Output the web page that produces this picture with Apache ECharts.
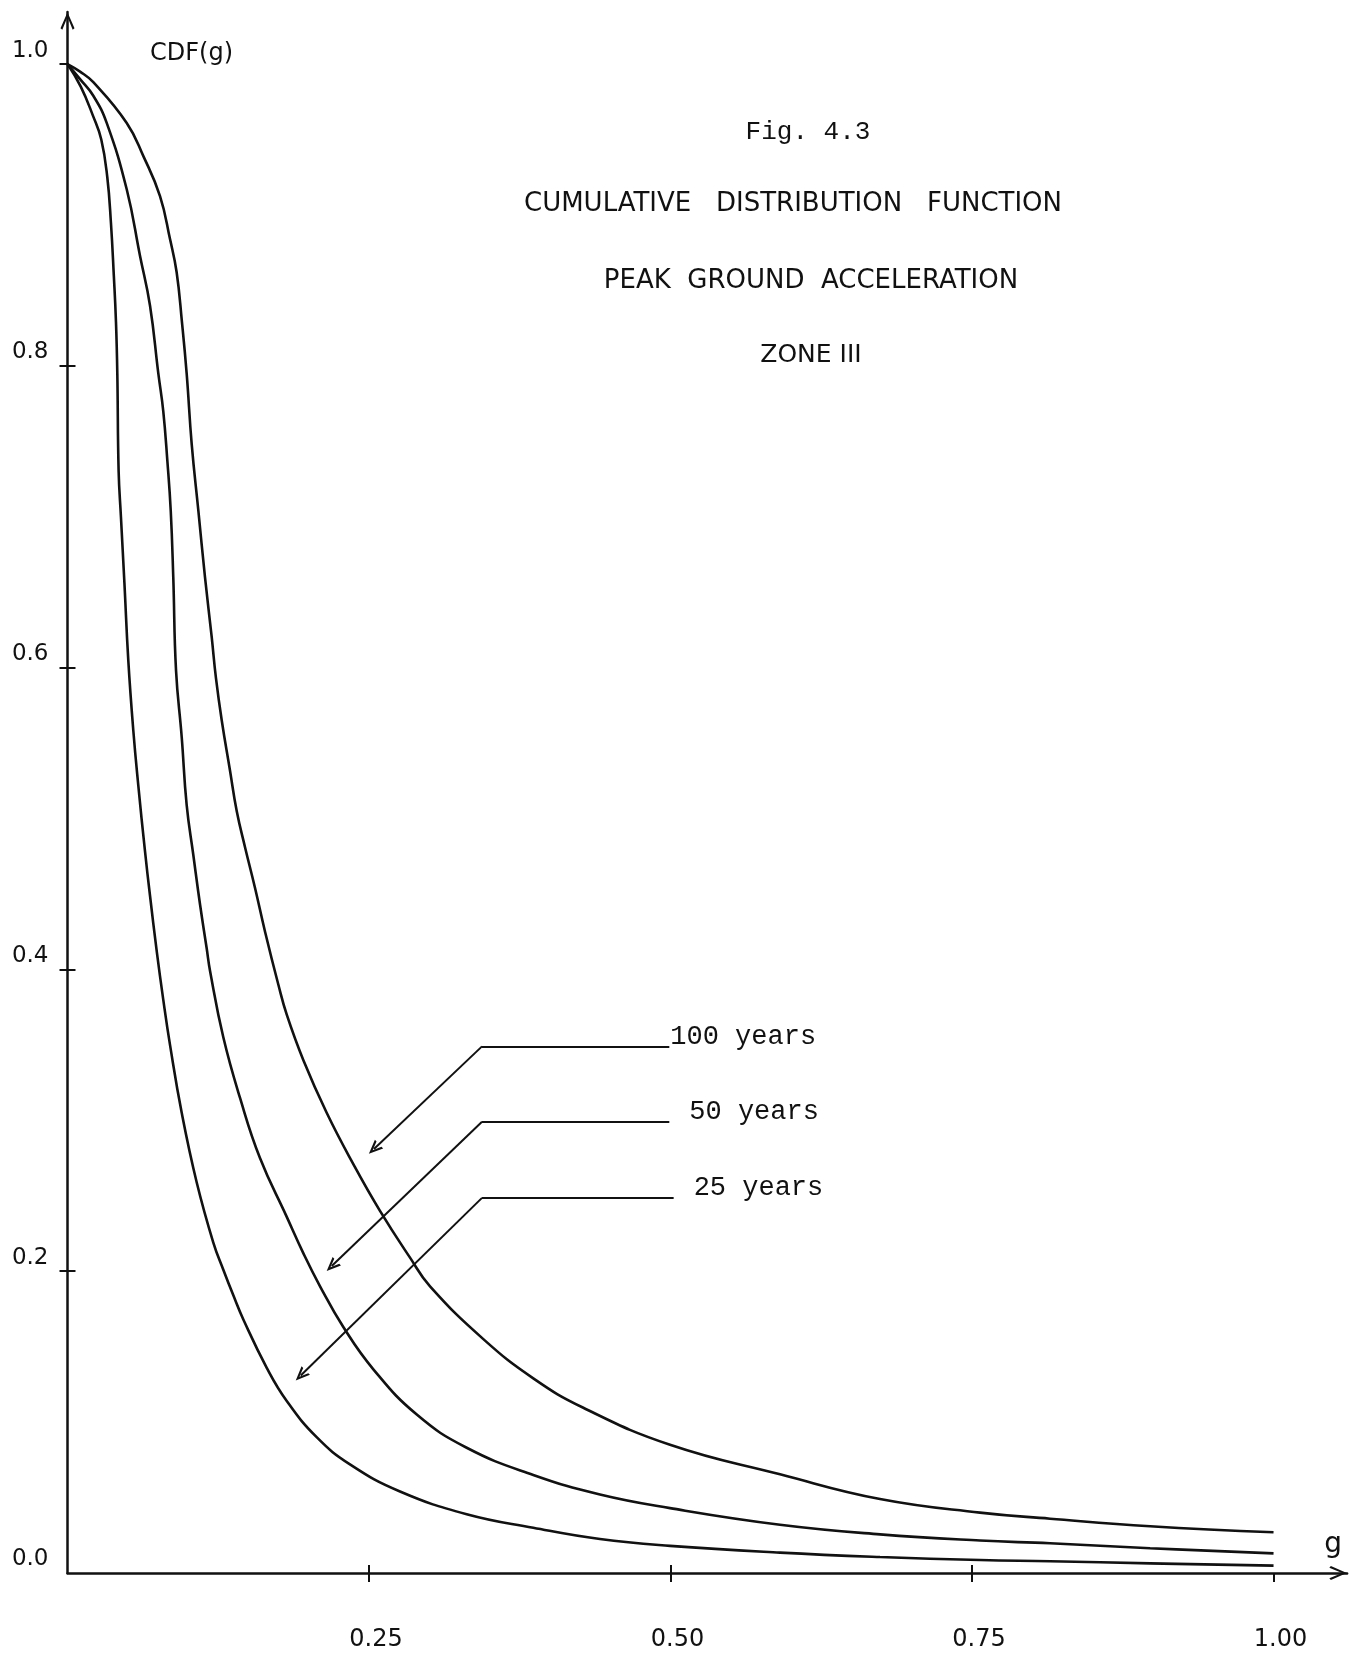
<!DOCTYPE html>
<html>
<head>
<meta charset="utf-8">
<title>Cumulative distribution function - peak ground acceleration, zone III</title>
<script src="https://cdn.jsdelivr.net/npm/echarts@6/dist/echarts.min.js"></script>
<style>
  html, body { margin: 0; padding: 0; background: #ffffff; }
  #chart { width: 1359px; height: 1661px; }
</style>
</head>
<body>
<div id="chart"></div>
<script>
// Exposure periods, one curve each
const seriesNames = ['25 years', '50 years', '100 years'];

// 25-year exposure: peak ground acceleration (g) and CDF(g)
const g25 = [0, 0.0110, 0.0210, 0.0280, 0.0330, 0.0360, 0.0384, 0.0402, 0.0413, 0.0424, 0.0443, 0.0472, 0.0504,
  0.0546, 0.0587, 0.0643, 0.0684, 0.0740, 0.0794, 0.0850, 0.0947, 0.1071, 0.1209, 0.1292, 0.1375,
  0.1458, 0.1652, 0.1818, 0.2066, 0.2342, 0.2757, 0.3310, 0.3862, 0.4415, 0.4996, 0.5908, 0.6737,
  0.7566, 0.8147, 0.8977, 1.0];
const cdf25 = [1.0, 0.985, 0.966, 0.950, 0.925, 0.895, 0.860, 0.829, 0.795, 0.730, 0.700, 0.656, 0.605,
  0.558, 0.522, 0.478, 0.449, 0.412, 0.380, 0.350, 0.305, 0.259, 0.219, 0.201, 0.184,
  0.168, 0.136, 0.114, 0.090, 0.072, 0.054, 0.039, 0.030, 0.0225, 0.018, 0.0135, 0.0106,
  0.0086, 0.0078, 0.0064, 0.0049];

// 50-year exposure
const g50 = [0, 0.0104, 0.0214, 0.0325, 0.0491, 0.0601, 0.0684, 0.0753, 0.0794, 0.0828, 0.0856, 0.0877,
  0.0900, 0.0947, 0.0988, 0.1043, 0.1099, 0.1154, 0.1182, 0.1292, 0.1430, 0.1596, 0.1818, 0.1955,
  0.2094, 0.2287, 0.2536, 0.2896, 0.3310, 0.3862, 0.4415, 0.4996, 0.5908, 0.6737, 0.7566, 0.8147,
  0.8977, 1.0];
const cdf50 = [1.0, 0.990, 0.979, 0.961, 0.917, 0.873, 0.840, 0.795, 0.770, 0.737, 0.704, 0.660,
  0.598, 0.554, 0.509, 0.476, 0.443, 0.414, 0.399, 0.355, 0.315, 0.275, 0.236, 0.212,
  0.190, 0.163, 0.135, 0.105, 0.083, 0.065, 0.052, 0.043, 0.032, 0.0256, 0.0215, 0.0197,
  0.0164, 0.0130];

// 100-year exposure
const g100 = [0, 0.0104, 0.0214, 0.0491, 0.0629, 0.0767, 0.0850, 0.0905, 0.0949, 0.0988, 0.1030, 0.1085,
  0.1140, 0.1196, 0.1231, 0.1279, 0.1347, 0.1403, 0.1472, 0.1555, 0.1638, 0.1748, 0.1818, 0.1955,
  0.2149, 0.2370, 0.2591, 0.2840, 0.3006, 0.3448, 0.3862, 0.4277, 0.4996, 0.5908, 0.6737, 0.7566,
  0.8147, 0.8977, 1.0];
const cdf100 = [1.0, 0.995, 0.988, 0.961, 0.939, 0.9125, 0.884, 0.862, 0.829, 0.795, 0.748, 0.704,
  0.660, 0.620, 0.593, 0.565, 0.532, 0.505, 0.481, 0.454, 0.425, 0.390, 0.370, 0.340,
  0.305, 0.271, 0.240, 0.209, 0.190, 0.155, 0.129, 0.1095, 0.085, 0.0654, 0.049, 0.040,
  0.036, 0.031, 0.027];

// Axis ticks and labels
const xTickValues = [0.25, 0.5, 0.75, 1.0];
const xInnerTickValues = [0.25, 0.5, 0.75];
const yTickValues = [0.2, 0.4, 0.6, 0.8, 1.0];
const yInnerTickValues = [0.2, 0.4, 0.6, 0.8];
const yLabelValues = [0, 0.2, 0.4, 0.6, 0.8, 1.0];

// Leader lines for the curve labels (data units): elbow, right end, arrow end
const leaders = {
  '100 years': { elbow: [0.3437, 0.349], end: [0.499, 0.349], arrow: [0.2541, 0.2810], gap: 1 },
  '50 years':  { elbow: [0.3437, 0.299], end: [0.499, 0.299], arrow: [0.2191, 0.2034], gap: 20 },
  '25 years':  { elbow: [0.3437, 0.2486], end: [0.5026, 0.2486], arrow: [0.1934, 0.1309], gap: 20 }
};

const INK = '#111111';
const axisArrow = 'path://M0,16 L7,0 L14,16 L12.2,17.5 L7,4.8 L1.8,17.5 Z';
const leaderArrow = 'path://M0,14 L6,0 L12,14 L9.6,14 L6,5.2 L2.4,14 Z';

const zip = (xs, ys) => xs.map((x, i) => [x, ys[i]]);
const curveData = {
  '25 years': zip(g25, cdf25),
  '50 years': zip(g50, cdf50),
  '100 years': zip(g100, cdf100)
};

function leaderMarkLine(name) {
  const L = leaders[name];
  return {
    silent: true,
    animation: false,
    symbol: ['none', 'none'],
    lineStyle: { color: INK, width: 2, type: 'solid' },
    label: { show: false },
    emphasis: { disabled: true },
    data: [
      [
        { coord: L.elbow, symbol: 'none' },
        {
          coord: L.end, symbol: 'none',
          label: {
            show: true, position: 'end', distance: L.gap,
            formatter: name,
            fontFamily: '"Liberation Mono", monospace', fontSize: 27,
            color: INK, verticalAlign: 'bottom', lineHeight: 20
          }
        }
      ],
      [
        { coord: L.elbow, symbol: 'none' },
        { coord: L.arrow, symbol: leaderArrow, symbolSize: [12, 14] }
      ]
    ]
  };
}

const chart = echarts.init(document.getElementById('chart'), null, { renderer: 'canvas' });

chart.setOption({
  animation: false,
  backgroundColor: '#ffffff',
  textStyle: { fontFamily: '"DejaVu Sans", sans-serif', color: INK },
  grid: { left: 67.5, right: 11.9, top: 12, bottom: 88, containLabel: false, outerBoundsMode: 'none' },
  xAxis: [
    {
      type: 'value', min: 0, max: 1.061, position: 'bottom',
      axisLine: {
        show: true, symbol: ['none', axisArrow], symbolSize: [14, 18], symbolOffset: [0, -9],
        lineStyle: { color: INK, width: 2.5 }
      },
      axisTick: { show: true, customValues: xTickValues, length: 9, inside: false, lineStyle: { color: INK, width: 2 } },
      axisLabel: {
        show: true, customValues: xTickValues, formatter: v => v.toFixed(2),
        margin: 55, fontSize: 24, color: INK, padding: [0, 0, 0, 14]
      },
      splitLine: { show: false },
      name: 'g', nameLocation: 'end', nameGap: -14, nameMoveOverlap: false,
      nameTextStyle: { fontSize: 28, color: INK, align: 'center', verticalAlign: 'bottom', padding: [0, 0, 14, 0] }
    },
    {
      type: 'value', min: 0, max: 1.061, position: 'bottom',
      axisLine: { show: false },
      axisTick: { show: true, customValues: xInnerTickValues, length: 8, inside: true, lineStyle: { color: INK, width: 2 } },
      axisLabel: { show: false },
      splitLine: { show: false }
    }
  ],
  yAxis: [
    {
      type: 'value', min: 0, max: 1.0345, position: 'left',
      axisLine: {
        show: true, symbol: ['none', axisArrow], symbolSize: [14, 18], symbolOffset: [0, -9],
        lineStyle: { color: INK, width: 2.5 }
      },
      axisTick: { show: true, customValues: yTickValues, length: 8, inside: false, lineStyle: { color: INK, width: 2 } },
      axisLabel: {
        show: true, customValues: yLabelValues, formatter: v => v.toFixed(1),
        margin: 19, fontSize: 23, color: INK, verticalAlign: 'bottom', padding: [0, 0, 2, 0]
      },
      splitLine: { show: false },
      name: 'CDF(g)', nameLocation: 'end', nameGap: -54, nameMoveOverlap: false,
      nameTextStyle: { fontSize: 24, color: INK, padding: [0, 0, 0, 248] }
    },
    {
      type: 'value', min: 0, max: 1.0345, position: 'left',
      axisLine: { show: false },
      axisTick: { show: true, customValues: yInnerTickValues, length: 8, inside: true, lineStyle: { color: INK, width: 2 } },
      axisLabel: { show: false },
      splitLine: { show: false }
    }
  ],
  graphic: [
    { type: 'text', x: 808, y: 132, silent: true,
      style: { text: 'Fig. 4.3', fontFamily: '"Liberation Mono", monospace', fontSize: 26, fill: INK,
               align: 'center', verticalAlign: 'middle', textAlign: 'center', textVerticalAlign: 'middle' } },
    { type: 'text', x: 793, y: 204, silent: true,
      style: { text: 'CUMULATIVE   DISTRIBUTION   FUNCTION', fontFamily: '"DejaVu Sans", sans-serif', fontSize: 26, fill: INK,
               align: 'center', verticalAlign: 'middle', textAlign: 'center', textVerticalAlign: 'middle' } },
    { type: 'text', x: 811, y: 281, silent: true,
      style: { text: 'PEAK  GROUND  ACCELERATION', fontFamily: '"DejaVu Sans", sans-serif', fontSize: 26, fill: INK,
               align: 'center', verticalAlign: 'middle', textAlign: 'center', textVerticalAlign: 'middle' } },
    { type: 'text', x: 811, y: 355, silent: true,
      style: { text: 'ZONE III', fontFamily: '"DejaVu Sans", sans-serif', fontSize: 25, fill: INK,
               align: 'center', verticalAlign: 'middle', textAlign: 'center', textVerticalAlign: 'middle' } }
  ],
  series: seriesNames.map(name => ({
    name,
    type: 'line',
    xAxisIndex: 0,
    yAxisIndex: 0,
    data: curveData[name],
    showSymbol: false,
    smooth: 0.45,
    lineStyle: { color: INK, width: 2.6 },
    emphasis: { disabled: true },
    markLine: leaderMarkLine(name)
  }))
});
</script>
</body>
</html>
